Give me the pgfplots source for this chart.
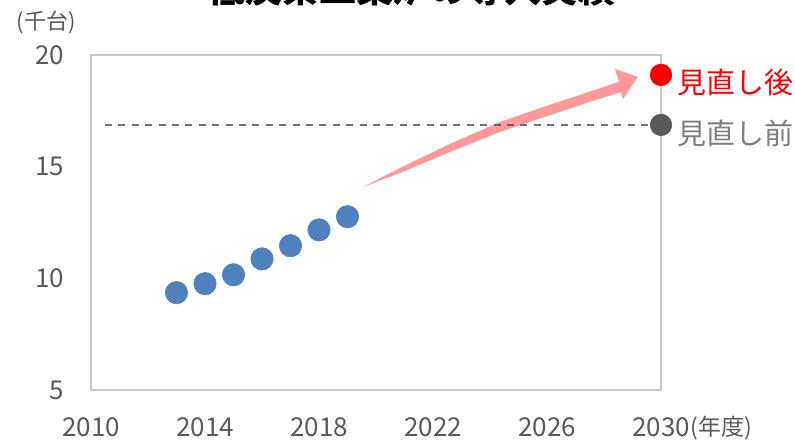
\documentclass[border=0pt]{standalone}
\usepackage{fontspec}
\setmainfont{Noto Sans CJK JP}
\usepackage{pgfplots}
\pgfplotsset{compat=1.18}
\definecolor{ptblue}{HTML}{4F81BD}
\definecolor{axgray}{HTML}{C8C8C8}
\definecolor{labgray}{HTML}{595959}
\definecolor{dkgray}{HTML}{595959}
\definecolor{txtgray}{HTML}{7F7F7F}
\definecolor{arrowpink}{HTML}{FF9999}
\begin{document}
\begin{tikzpicture}
\useasboundingbox (0pt,0pt) rectangle (397.5pt,219.5pt);
\clip (0pt,0pt) rectangle (397.5pt,219.5pt);
\node[anchor=south, inner sep=0pt, font=\fontsize{18.5}{20}\selectfont\bfseries] at (206pt,216pt) {低炭素工業炉の導入実績};
\node[inner sep=0pt, font=\fontsize{11}{13}\selectfont, text=labgray] at (23pt,208.5pt) {(千台)};
\node[inner sep=0pt, font=\fontsize{11.5}{13}\selectfont, text=labgray] at (360.5pt,5.5pt) {(年度)};
\begin{axis}[
  at={(45.5pt,24.5pt)}, anchor=south west, scale only axis,
  width=285pt, height=167.5pt,
  xmin=2010, xmax=2030, ymin=5, ymax=20,
  xtick={2010,2014,2018,2022,2026,2030}, ytick={5,10,15,20},
  axis line style={draw=axgray, line width=0.8pt},
  tick style={draw=none},
  ticklabel style={font=\fontsize{13}{15}\selectfont, text=labgray},
  /pgf/number format/assume math mode=true,
  /pgf/number format/1000 sep={},
  xticklabel style={yshift=-10.5pt},
  yticklabel style={xshift=-10pt},
  clip=false,
]
% arrow
\addplot[fill=arrowpink, draw=none] coordinates {
  (2019.544,14.091) (2020.842,14.942) (2022.596,16.017) (2024.351,17.002)
  (2026.105,17.772) (2027.860,18.511) (2028.526,18.802)
  (2028.386,19.375) (2029.193,19.017) (2028.667,18.032)
  (2028.596,18.336) (2027.860,18.045) (2026.105,17.306) (2024.351,16.554)
  (2022.596,15.658) (2020.842,14.718)
} -- cycle;
% dashed reference line
\addplot[draw=dkgray, opacity=0.85, line width=1pt, dash pattern=on 3.5pt off 3.2pt] coordinates {(2010.49,16.87) (2029.61,16.87)};
% actual data
\addplot[only marks, color=ptblue, mark=*, mark size=5.6pt, mark options={fill=ptblue, draw=ptblue, line width=0.3pt}] coordinates {
  (2013,9.36) (2014,9.76) (2015,10.16) (2016,10.87) (2017,11.46) (2018,12.17) (2019,12.76)
};
\addplot[only marks, color=red, mark=*, mark size=5.4pt, mark options={fill=red, draw=red, line width=0.3pt}] coordinates {(2030,19.11)};
\addplot[only marks, color=dkgray, mark=*, mark size=5.4pt, mark options={fill=dkgray, draw=dkgray, line width=0.3pt}] coordinates {(2030,16.87)};
\node[anchor=west, inner sep=0pt, text=red, font=\fontsize{14.5}{16}\selectfont] at (axis cs:2030,19.11) [xshift=8pt, yshift=-4pt] {見直し後};
\node[anchor=west, inner sep=0pt, text=txtgray, font=\fontsize{14.5}{16}\selectfont] at (axis cs:2030,16.87) [xshift=8pt, yshift=-4.5pt] {見直し前};
\end{axis}
\end{tikzpicture}
\end{document}
